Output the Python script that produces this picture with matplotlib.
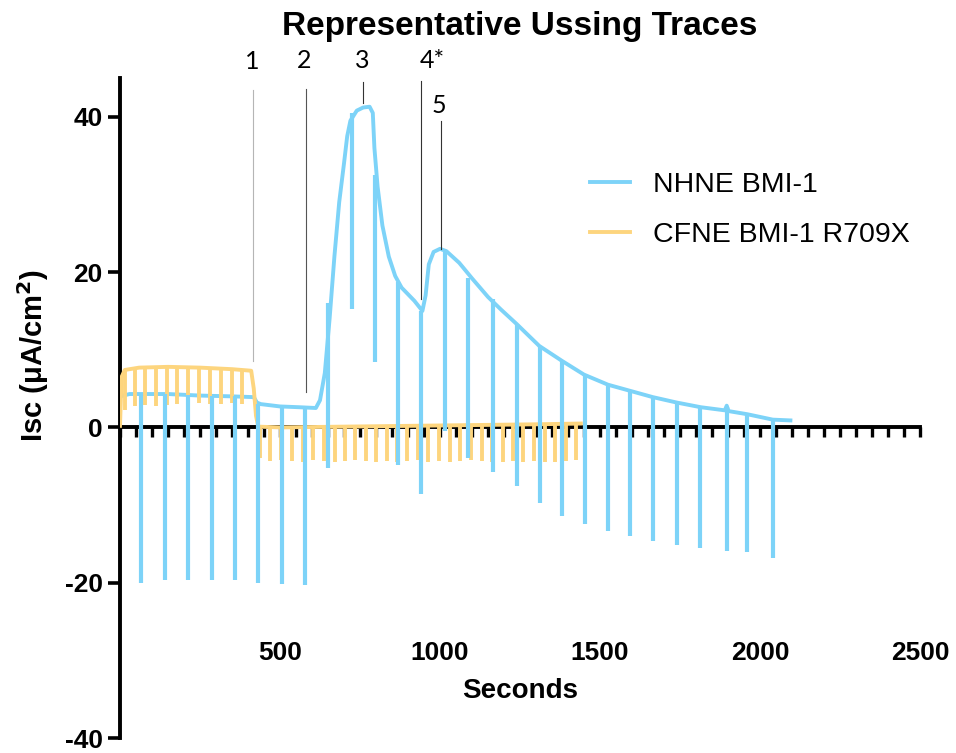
import numpy as np
import matplotlib
matplotlib.use('Agg')
import matplotlib.pyplot as plt
from matplotlib.ticker import MultipleLocator

plt.rcParams['font.family'] = ['Liberation Sans', 'DejaVu Sans']
plt.rcParams['axes.unicode_minus'] = False

# --- NHNE BMI-1 trace (upper envelope) ---
nh_t = [0, 30, 150, 250, 350, 418, 428, 440, 500, 560, 612, 625, 640, 655, 670, 685, 700, 710,
        720, 740, 760, 780, 790, 795, 805, 820, 840, 860, 880, 920, 945, 955, 965, 980, 1000,
        1020, 1060, 1100, 1150, 1190, 1240, 1310, 1380, 1450, 1525, 1595, 1665, 1740, 1815,
        1890, 1896, 1902, 1960, 2040, 2095]
nh_i = [4.0, 4.3, 4.3, 4.1, 4.0, 3.9, 3.2, 3.0, 2.7, 2.6, 2.5, 3.5, 7.0, 14.0, 22.0, 29.0, 34.0, 37.5,
        39.5, 40.8, 41.2, 41.3, 40.5, 36.0, 31.0, 26.0, 22.0, 19.5, 18.0, 16.3, 15.0, 17.0, 21.0, 22.6, 23.0,
        22.7, 21.2, 19.2, 16.8, 15.2, 13.3, 10.5, 8.6, 6.8, 5.5, 4.7, 3.9, 3.2, 2.6,
        2.2, 2.8, 2.1, 1.7, 1.0, 0.9]

# voltage pulses (time, top, bottom)
nh_pulse_t = [66, 140, 212, 287, 359, 431, 506, 578, 650, 725, 797, 869, 941, 1016, 1088, 1165,
              1240, 1312, 1380, 1453, 1526, 1594, 1667, 1740, 1812, 1896, 1958, 2042]
nh_pulse_top = [4.3, 4.3, 4.2, 4.1, 4.0, 3.0, 2.8, 2.5, 16.0, 40.5, 32.5, 18.7, 15.0, 22.8, 19.3, 16.6,
                13.3, 10.5, 8.6, 6.8, 5.5, 4.7, 3.9, 3.2, 2.6, 2.6, 1.7, 1.0]
nh_pulse_low = [-20.0, -19.7, -19.6, -19.7, -19.6, -20.1, -20.2, -20.3, -5.2, 15.2, 8.4, -4.8, -8.6,
                -0.5, -3.9, -5.8, -7.6, -9.7, -11.4, -12.5, -13.4, -14.0, -14.6, -15.1, -15.5,
                -15.9, -16.1, -16.8]

# --- CFNE BMI-1 R709X trace ---
cf_t = [0, 5, 15, 60, 150, 250, 350, 410, 418, 425, 432, 500, 700, 900, 1100, 1300, 1440]
cf_i = [0.2, 6.5, 7.4, 7.7, 7.8, 7.7, 7.5, 7.3, 5.0, 1.5, 0.1, 0.0, 0.1, 0.2, 0.3, 0.4, 0.5]

cf_pulse_t = [16, 47, 78, 112, 146, 179, 214, 247, 281, 315, 349, 380,
              437, 470, 504, 538, 572, 604, 637, 672, 703, 734, 769, 800, 833, 867, 898, 932,
              964, 998, 1031, 1063, 1096, 1130, 1161, 1196, 1229, 1260, 1294, 1328, 1359, 1394, 1425]
cf_pulse_top = [7.5, 7.7, 7.8, 7.8, 7.8, 7.8, 7.7, 7.7, 7.6, 7.5, 7.4, 7.3,
                0.1, 0.0, 0.0, 0.0, 0.1, 0.1, 0.1, 0.1, 0.1, 0.1, 0.2, 0.2, 0.2, 0.2, 0.2, 0.2,
                0.2, 0.2, 0.3, 0.3, 0.3, 0.3, 0.3, 0.3, 0.4, 0.4, 0.4, 0.4, 0.4, 0.5, 0.5]
cf_pulse_low = [2.3, 2.8, 2.9, 2.8, 2.9, 3.0, 3.0, 3.1, 3.0, 3.0, 3.1, 3.0,
                -4.0, -4.3, -4.2, -4.3, -4.4, -4.2, -4.3, -4.4, -4.3, -4.2, -4.3, -4.4, -4.3, -4.5,
                -4.3, -4.2, -4.4, -4.3, -4.4, -4.3, -4.2, -4.3, -4.4, -4.5, -4.3, -4.4, -4.3, -4.5,
                -4.4, -4.3, -4.2]

# --- marker lines for additions ---
mark_labels = ['1', '2', '3', '4*', '5']
mark_t = [417, 580, 760, 941, 1002]
mark_top = [43.4, 43.6, 44.5, 44.6, 39.4]
mark_bottom = [8.5, 4.6, 41.8, 16.5, 23.0]
mark_label_t = [412, 575, 756, 975, 997]
mark_label_y = [47.1, 47.2, 47.2, 47.2, 41.5]
mark_colors = ['#b5b5b5', '#555555', '#333333', '#333333', '#333333']

blue = '#7dd3f8'
yellow = '#fdd57e'

fig = plt.figure(figsize=(9.56, 7.53), dpi=100)
ax = fig.add_axes([120 / 956, 15 / 753, 800 / 956, 660 / 753])

ax.plot(nh_t, nh_i, color=blue, lw=2.8, label='NHNE BMI-1', zorder=2, solid_joinstyle='round')
ax.plot(cf_t, cf_i, color=yellow, lw=2.8, label='CFNE BMI-1 R709X', zorder=3)
ax.vlines(cf_pulse_t, cf_pulse_low, cf_pulse_top, color=yellow, lw=2.8, zorder=3)
ax.vlines(nh_pulse_t, nh_pulse_low, nh_pulse_top, color=blue, lw=3.0, zorder=4)

for lab, t, y0, y1, lt, ly, c in zip(mark_labels, mark_t, mark_bottom, mark_top,
                                     mark_label_t, mark_label_y, mark_colors):
    ax.plot([t, t], [y0, y1], color=c, lw=0.8, clip_on=False, zorder=5)
    ax.text(lt, ly, lab, ha='center', va='center', fontsize=18, family=['Lato', 'DejaVu Sans'],
            clip_on=False)

ax.set_xlim(0, 2500)
ax.set_ylim(-40, 45)

ax.spines['top'].set_visible(False)
ax.spines['right'].set_visible(False)
ax.spines['bottom'].set_position(('data', 0))
ax.spines['bottom'].set_linewidth(2.8)
ax.spines['left'].set_linewidth(2.8)
ax.spines['left'].set_bounds(-40, 45)

ax.xaxis.set_major_locator(MultipleLocator(500))
ax.xaxis.set_minor_locator(MultipleLocator(50))
ax.set_xticks([500, 1000, 1500, 2000, 2500])
ax.tick_params(axis='x', which='both', direction='out', length=7.5, width=2.4)
ax.tick_params(axis='x', which='major', pad=146, labelsize=19)
ax.set_yticks([-40, -20, 0, 20, 40])
ax.tick_params(axis='y', direction='out', length=9, width=2.6, labelsize=19)
for lbl in ax.get_xticklabels() + ax.get_yticklabels():
    lbl.set_fontweight('bold')

ax.set_xlabel('Seconds', fontsize=20, fontweight='bold', labelpad=10)
ax.set_ylabel('Isc (μA/cm$^\\mathbf{2}$)', fontsize=21, fontweight='bold')
ax.yaxis.set_label_coords(-0.086, 0.58)
ax.set_title('Representative Ussing Traces', fontsize=24, fontweight='bold', pad=31)

ax.legend(loc='upper left', bbox_to_anchor=(0.5875, 0.858), frameon=False, fontsize=20.5,
          handlelength=1.4, handletextpad=0.8, labelspacing=0.85, borderpad=0, borderaxespad=0)

fig.savefig('out.png', dpi=100)
